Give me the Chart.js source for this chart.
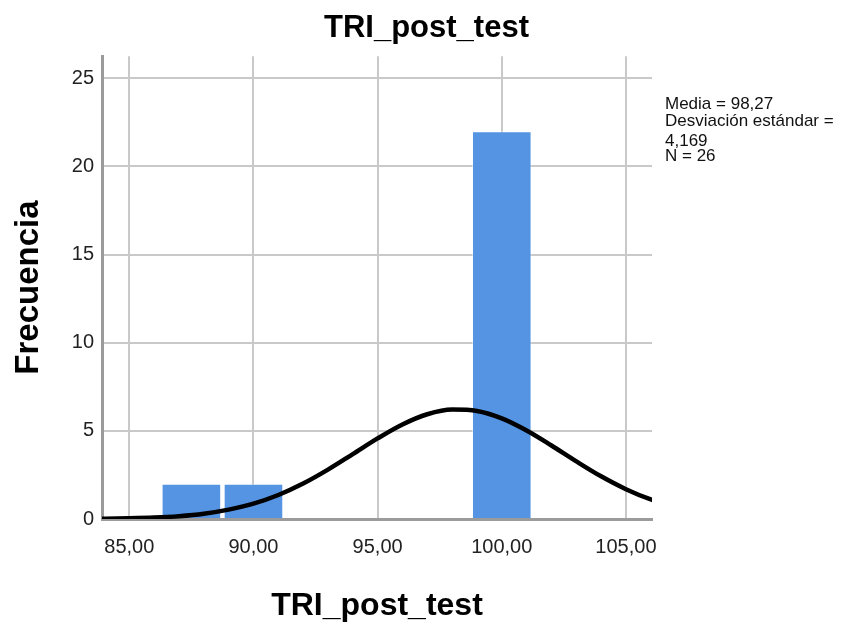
<!DOCTYPE html>
<html>
<head>
<meta charset="utf-8">
<script src="https://cdn.jsdelivr.net/npm/chart.js@4.4.0/dist/chart.umd.min.js"></script>
<style>
  html, body { margin: 0; padding: 0; background: #fff; }
  #wrap { width: 848px; height: 625px; }
</style>
</head>
<body>
<div id="wrap"><canvas id="hist" width="848" height="625"></canvas></div>
<script>
const chartTitle = 'TRI_post_test';
const xTitle = 'TRI_post_test';
const yTitle = 'Frecuencia';

// histogram: centre of each bar and its frequency
const binCenters = [87.5, 90, 100];
const binCounts = [2, 2, 22];

// normal curve
const curveX = [83, 84, 85, 86, 87, 88, 89, 90, 91, 92, 93, 94, 95,
                96, 97, 98, 99, 100, 101, 102, 103, 104, 105, 106, 107];
const curveY = [0.01, 0.02, 0.04, 0.08, 0.16, 0.30, 0.53, 0.87, 1.36, 2.01, 2.80, 3.68, 4.57,
                5.36, 5.94, 6.21, 6.13, 5.71, 5.02, 4.17, 3.27, 2.42, 1.69, 1.11, 0.70];

const xTicks = [85, 90, 95, 100, 105];
const yTicks = [0, 5, 10, 15, 20, 25];
const xRange = [83.9, 106.05];
const yRange = [0, 26.25];

const statLines = ['Media = 98,27', 'Desviación estándar =', '4,169', 'N = 26'];

const FONT = '"Liberation Sans", Arial, sans-serif';
Chart.defaults.font.family = FONT;
Chart.defaults.color = '#222';

// text block on the right of the plot
const statsPlugin = {
  id: 'stats',
  afterDraw(chart) {
    const ctx = chart.ctx;
    const baselines = [109, 126, 146, 161];
    ctx.save();
    ctx.fillStyle = '#111';
    ctx.font = '17px ' + FONT;
    ctx.textAlign = 'left';
    ctx.textBaseline = 'alphabetic';
    statLines.forEach((line, i) => ctx.fillText(line, 665, baselines[i]));
    ctx.restore();
  }
};

const gridColor = '#c9c9c9';
const axisColor = '#9b9b9b';

new Chart(document.getElementById('hist'), {
  type: 'bar',
  data: {
    datasets: [
      {
        type: 'line',
        data: curveX.map((x, i) => ({ x: x, y: curveY[i] })),
        borderColor: '#000',
        borderWidth: 4.5,
        pointRadius: 0,
        cubicInterpolationMode: 'monotone',
        fill: false,
        order: 0
      },
      {
        type: 'bar',
        data: binCenters.map((x, i) => ({ x: x, y: binCounts[i] })),
        backgroundColor: '#5594e2',
        borderColor: 'rgba(255,255,255,0.5)',
        borderWidth: 1,
        barPercentage: 0.96,
        categoryPercentage: 1,
        order: 1
      }
    ]
  },
  options: {
    responsive: false,
    animation: false,
    devicePixelRatio: 1,
    layout: { padding: { left: 5, right: 0, top: 0, bottom: 0 } },
    plugins: {
      legend: { display: false },
      tooltip: { enabled: false },
      title: {
        display: true,
        text: chartTitle,
        color: '#000',
        font: { size: 31, weight: 'bold' },
        padding: { top: 10, bottom: 9 }
      }
    },
    scales: {
      x: {
        type: 'linear',
        min: xRange[0],
        max: xRange[1],
        offset: false,
        afterBuildTicks: s => { s.ticks = xTicks.map(v => ({ value: v })); },
        afterFit: s => { s.height = 106; },
        grid: { color: gridColor, lineWidth: 2, drawTicks: false, offset: false },
        border: { color: axisColor, width: 3 },
        ticks: {
          padding: 16,
          font: { size: 20 },
          color: '#222',
          callback: v => v.toFixed(2).replace('.', ',')
        },
        title: {
          display: true,
          text: xTitle,
          color: '#000',
          font: { size: 32, weight: 'bold' },
          padding: { top: 4, bottom: 0 }
        }
      },
      y: {
        min: yRange[0],
        max: yRange[1],
        afterBuildTicks: s => { s.ticks = yTicks.map(v => ({ value: v })); },
        afterFit: s => { s.width = 97; },
        grid: { color: gridColor, lineWidth: 2, drawTicks: false },
        border: { color: axisColor, width: 3 },
        ticks: { padding: 8, font: { size: 20 }, color: '#222' },
        title: {
          display: true,
          text: yTitle,
          color: '#000',
          font: { size: 33, weight: 'bold' },
          padding: { top: 4, bottom: 4 }
        }
      },
      // empty axis that keeps room on the right for the stats text
      side: {
        position: 'right',
        min: 0,
        max: 1,
        afterFit: s => { s.width = 196; },
        grid: { display: false },
        border: { display: false },
        ticks: { display: false }
      }
    }
  },
  plugins: [statsPlugin]
});
</script>
</body>
</html>
